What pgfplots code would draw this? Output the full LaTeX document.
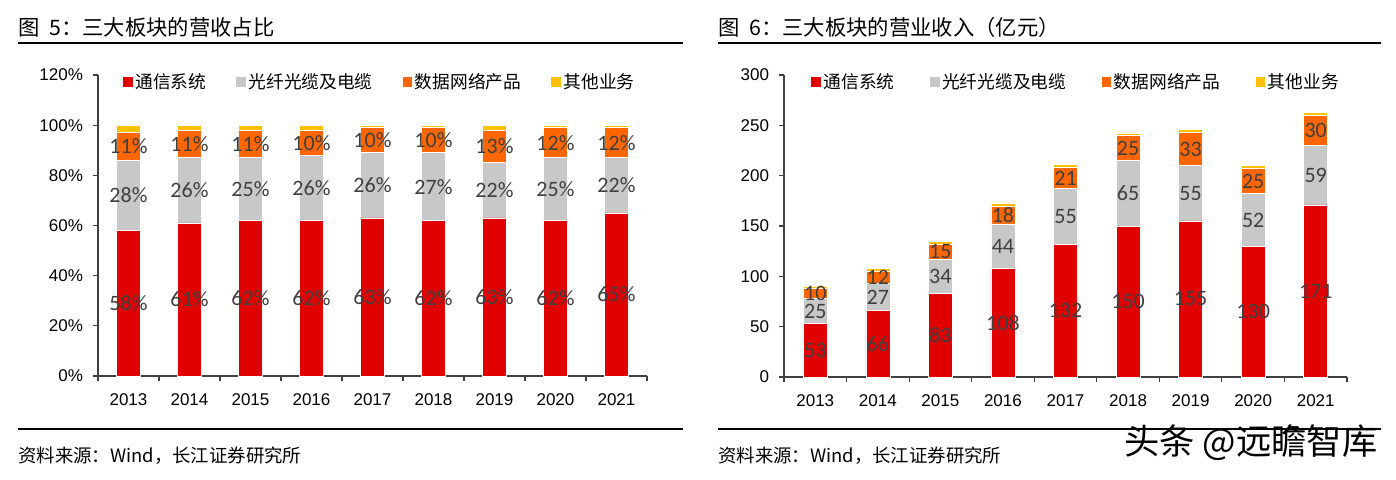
\documentclass[border=0pt]{standalone}
\usepackage{pgfplots}
\pgfplotsset{compat=1.18}
\usepackage{pgfplotstable}
\usepackage{fontspec}
\setmainfont{Liberation Sans}
\newfontfamily\cjk{Noto Sans CJK SC}
\newfontfamily\calib{Carlito}
\definecolor{cRed}{HTML}{E00000}
\definecolor{cGray}{HTML}{C8C8C8}
\definecolor{cOrange}{HTML}{FF6600}
\definecolor{cYellow}{HTML}{FFC000}
\definecolor{cLabel}{HTML}{404040}
\definecolor{cAxis}{HTML}{404040}

\pgfplotstableread{
x a b c d
0 58 28 11 3
1 61 26 11 2
2 62 25 11 2
3 62 26 10 2
4 63 26 10 1
5 62 27 10 1
6 63 22 13 2
7 62 25 12 1
8 65 22 12 1
}\pct
\pgfplotstableread{
x a b c d
0 53 25 10 2.5
1 66 27 12 2.5
2 83 34 15 2.5
3 108 44 18 3
4 132 55 21 3
5 150 65 25 2.5
6 155 55 33 3
7 130 52 25 3
8 171 59 30 3
}\rev

\pgfplotsset{
  base/.style={
    ybar stacked, bar width=18pt, scale only axis, clip=false,
    enlargelimits=false,
    xmin=-0.5, xmax=8.5,
    xtick={-0.5,0.5,1.5,2.5,3.5,4.5,5.5,6.5,7.5,8.5},
    xticklabels={2013,2014,2015,2016,2017,2018,2019,2020,2021},
    x tick label as interval,
    tick align=outside,
    major tick length=3.75pt,
    axis x line*=bottom, axis y line*=left,
    axis line style={cAxis, line width=0.9pt},
    tick style={cAxis, line width=0.8pt},
    /pgf/number format/assume math mode=true,
    ticklabel style={font=\fontsize{12.75}{14}\selectfont, text=black},
    xticklabel style={yshift=-6pt},
    yticklabel style={xshift=-4pt},
    legend columns=4,
    legend style={draw=none, fill=none, anchor=center, inner sep=0pt,
      font=\cjk\fontsize{13.3}{15}\selectfont},
    legend image code/.code={\path[##1,draw=none] (0pt,-3.6pt) rectangle (7.2pt,3.6pt);},
  },
  lbl/.style={
    nodes near coords={\pgfmathprintnumber[fixed,precision=0]{\pgfplotspointmeta}#1},
    point meta=rawy,
    every node near coord/.append style={
      anchor=center, font=\calib\fontsize{16.5}{18}\selectfont, text=cLabel}
  },
  sr/.style={fill=cRed, draw=white, line width=0.5pt},
  sg/.style={fill=cGray, draw=white, line width=0.5pt},
  so/.style={fill=cOrange, draw=white, line width=0.5pt},
  sy/.style={fill=cYellow, draw=white, line width=0.5pt},
}

\begin{document}
\begin{tikzpicture}
\useasboundingbox (0pt,0pt) rectangle (1047pt,-359.25pt);
\begin{scope}[x=0.75pt,y=-0.75pt]
% titles and rules
\node[anchor=west, inner sep=0pt, font=\cjk\fontsize{16}{19}\selectfont] at (18,27) {图\hspace{0.45em}5：三大板块的营收占比};
\node[anchor=west, inner sep=0pt, font=\cjk\fontsize{16}{19}\selectfont] at (718,27) {图\hspace{0.45em}6：三大板块的营业收入（亿元）};
\draw[line width=2pt] (18,43) -- (683,43);
\draw[line width=2pt] (718,43) -- (1381,43);
\draw[line width=2pt] (18,429) -- (683,429);
\draw[line width=2pt] (718,429) -- (1381,429);
\node[anchor=west, inner sep=0pt, font=\cjk\fontsize{13.8}{15}\selectfont] at (18,456) {资料来源：Wind，长江证券研究所};
\node[anchor=west, inner sep=0pt, font=\cjk\fontsize{13.8}{15}\selectfont] at (718,456) {资料来源：Wind，长江证券研究所};
\node[anchor=west, inner sep=0pt, font=\cjk\fontsize{26.5}{28}\selectfont] at (1124,443) {头条 @远瞻智库};
\end{scope}

% left chart
\begin{axis}[base, at={(73.5pt,-282pt)}, anchor=south west,
  width=411.75pt, height=225.75pt,
  ymin=0, ymax=120, ytick={0,20,...,120},
  yticklabel={\pgfmathprintnumber{\tick}\%},
  legend style={at={(0.514,0.977)},
    /tikz/every even column/.append style={column sep=20.5pt}}]
\addplot[sr, lbl={\%}] table[x=x,y=a] {\pct};
\addplot[sg, lbl={\%}] table[x=x,y=b] {\pct};
\addplot[so, lbl={\%}] table[x=x,y=c] {\pct};
\addplot[sy] table[x=x,y=d] {\pct};
\legend{通信系统,光纤光缆及电缆,数据网络产品,其他业务}
\end{axis}

% right chart
\begin{axis}[base, at={(588pt,-282.75pt)}, anchor=south west,
  width=422.25pt, height=226.5pt,
  ymin=0, ymax=300, ytick={0,50,...,300},
  legend style={at={(0.5195,0.977)},
    /tikz/every even column/.append style={column sep=24.5pt}}]
\addplot[sr, lbl={}] table[x=x,y=a] {\rev};
\addplot[sg, lbl={}] table[x=x,y=b] {\rev};
\addplot[so, lbl={}] table[x=x,y=c] {\rev};
\addplot[sy] table[x=x,y=d] {\rev};
\legend{通信系统,光纤光缆及电缆,数据网络产品,其他业务}
\end{axis}
\end{tikzpicture}
\end{document}
